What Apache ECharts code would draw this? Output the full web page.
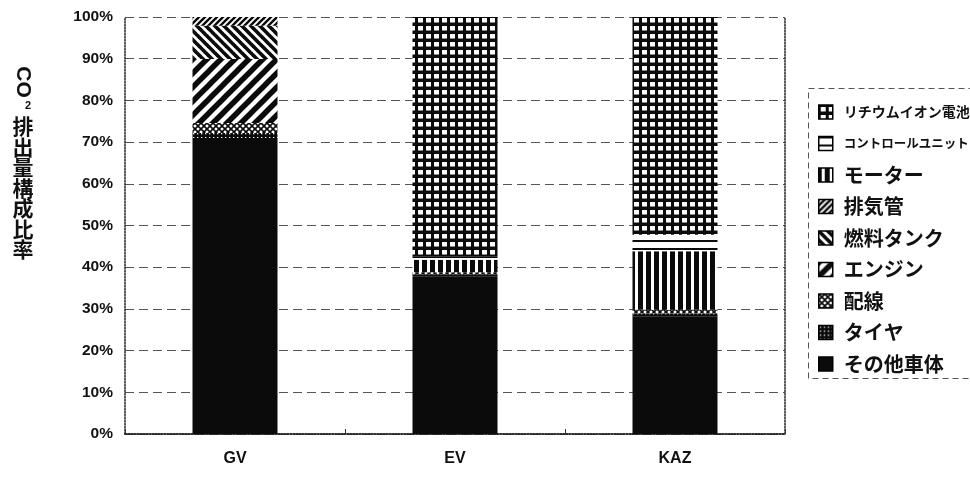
<!DOCTYPE html>
<html>
<head>
<meta charset="utf-8">
<script src="https://cdn.jsdelivr.net/npm/echarts@6/dist/echarts.min.js"></script>
<style>
html,body{margin:0;padding:0;background:#fff;}
#chart{width:970px;height:493px;}
</style>
</head>
<body>
<div id="chart"></div>
<script>
// ---- data ----
const categories = ['GV', 'EV', 'KAZ'];
const yTicks = [0, 10, 20, 30, 40, 50, 60, 70, 80, 90, 100];
const seriesNames = ['その他車体', 'タイヤ', '配線', 'エンジン', '燃料タンク', '排気管', 'モーター', 'コントロールユニット', 'リチウムイオン電池'];
const otherBody    = [71.0, 37.8, 28.1];
const tire         = [1.2, 0.5, 0.8];
const wiring       = [2.4, 0.5, 0.9];
const engine       = [15.3, 0, 0];
const fuelTank     = [8.0, 0, 0];
const exhaust      = [2.1, 0, 0];
const motor        = [0, 3.0, 14.0];
const controlUnit  = [0, 0.8, 4.0];
const liIonBattery = [0, 57.4, 52.2];
const seriesValues = [otherBody, tire, wiring, engine, fuelTank, exhaust, motor, controlUnit, liIonBattery];
const legendOrder = ['リチウムイオン電池', 'コントロールユニット', 'モーター', '排気管', '燃料タンク', 'エンジン', '配線', 'タイヤ', 'その他車体'];

// ---- patterns (styles) ----
function makePattern(w, h, draw) {
  const c = document.createElement('canvas');
  c.width = w; c.height = h;
  const ctx = c.getContext('2d');
  draw(ctx, w, h);
  return { image: c, repeat: 'repeat' };
}
const K = '#0b0b0b';
function diag(ctx, s, lw, forward) {
  ctx.strokeStyle = K; ctx.lineWidth = lw; ctx.lineCap = 'square';
  for (const x0 of [-s, 0, s]) {
    ctx.beginPath();
    if (forward) { ctx.moveTo(x0, s); ctx.lineTo(x0 + s, 0); }
    else { ctx.moveTo(x0, 0); ctx.lineTo(x0 + s, s); }
    ctx.stroke();
  }
}
const patterns = {
  'その他車体': K,
  'タイヤ': makePattern(4, 4, (ctx) => { ctx.fillStyle = K; ctx.fillRect(0,0,4,4); ctx.fillStyle = '#fff'; ctx.fillRect(1,1,1.3,1.3); }),
  '配線': makePattern(6, 6, (ctx, w, h) => { ctx.fillStyle = '#fff'; ctx.fillRect(0,0,w,h); diag(ctx, 6, 1.6, true); diag(ctx, 6, 1.6, false); }),
  'エンジン': makePattern(14, 14, (ctx, w, h) => { ctx.fillStyle = '#fff'; ctx.fillRect(0,0,w,h); diag(ctx, 14, 5.5, true); }),
  '燃料タンク': makePattern(9, 9, (ctx, w, h) => { ctx.fillStyle = '#fff'; ctx.fillRect(0,0,w,h); diag(ctx, 9, 3.6, false); }),
  '排気管': makePattern(6, 6, (ctx, w, h) => { ctx.fillStyle = '#fff'; ctx.fillRect(0,0,w,h); diag(ctx, 6, 2.4, true); }),
  'モーター': makePattern(8, 8, (ctx) => { ctx.fillStyle = K; ctx.fillRect(0,0,8,8); ctx.fillStyle = '#fff'; ctx.fillRect(3,0,3,8); }),
  'コントロールユニット': makePattern(8, 8, (ctx) => { ctx.fillStyle = '#fff'; ctx.fillRect(0,0,8,8); ctx.fillStyle = K; ctx.fillRect(0,0,8,2); }),
  'リチウムイオン電池': makePattern(8, 8, (ctx) => { ctx.fillStyle = K; ctx.fillRect(0,0,8,8); ctx.fillStyle = '#fff'; ctx.fillRect(2,2,5,4.5); })
};

const legendFontSize = {
  'リチウムイオン電池': 14,
  'コントロールユニット': 12.5
};

const chart = echarts.init(document.getElementById('chart'));
const labelFont = '"Liberation Sans", Arial, sans-serif';
const cjkFont = '"Noto Sans CJK JP", "Noto Sans", sans-serif';

const series = seriesNames.map((name, i) => ({
  name: name,
  type: 'bar',
  stack: 'total',
  barWidth: 85,
  data: seriesValues[i],
  itemStyle: { color: patterns[name] },
  emphasis: { disabled: true }
}));

chart.setOption({
  animation: false,
  backgroundColor: '#fff',
  grid: { left: 125, right: 185, top: 17, bottom: 59 },
  xAxis: [{
    type: 'category',
    data: categories,
    position: 'bottom',
    axisLine: { lineStyle: { color: '#222', type: 'dotted', width: 1.5 } },
    axisTick: { show: true, inside: true, length: 5, alignWithLabel: false, lineStyle: { color: '#333' } },
    axisLabel: { margin: 17, color: '#111', fontSize: 16, fontWeight: 'bold', fontFamily: labelFont }
  }, {
    type: 'category',
    data: categories,
    position: 'top',
    axisLine: { lineStyle: { color: '#222', type: 'dotted', width: 1.5 } },
    axisTick: { show: false },
    axisLabel: { show: false }
  }],
  yAxis: [{
    type: 'value',
    min: 0, max: 100, interval: 10,
    axisLine: { show: true, lineStyle: { color: '#222', type: 'dotted', width: 1.5 } },
    axisTick: { show: false },
    axisLabel: {
      margin: 12, color: '#111', fontSize: 15.5, fontWeight: 'bold', fontFamily: labelFont,
      formatter: (v) => yTicks.includes(v) ? v + '%' : ''
    },
    splitLine: { show: true, lineStyle: { color: '#555', type: [9, 5], width: 1 } }
  }, {
    type: 'value',
    min: 0, max: 100, interval: 10,
    position: 'right',
    axisLine: { show: true, lineStyle: { color: '#222', type: 'dotted', width: 1.5 } },
    axisTick: { show: false },
    axisLabel: { show: false },
    splitLine: { show: false }
  }],
  legend: {
    orient: 'vertical',
    left: 813,
    top: 97,
    itemWidth: 14,
    itemHeight: 14,
    itemGap: 11.5,
    icon: 'rect',
    selectedMode: false,
    itemStyle: { borderColor: '#000', borderWidth: 1.5 },
    textStyle: { color: '#111', fontSize: 20, fontWeight: 'bold', fontFamily: cjkFont, lineHeight: 20, padding: [0, 0, 0, 6] },
    data: legendOrder.map(n => legendFontSize[n]
      ? { name: n, textStyle: { fontSize: legendFontSize[n], lineHeight: 20 } }
      : { name: n })
  },
  graphic: [
    {
      type: 'rect',
      left: 806, top: 86, z: -1,
      shape: { width: 175, height: 290 },
      style: { fill: 'none', stroke: '#555', lineWidth: 1, lineDash: [6, 4] },
      silent: true
    },
    {
      type: 'text',
      x: 23, y: 82,
      rotation: -Math.PI / 2,
      style: { text: 'CO', fill: '#111', font: 'bold 21px ' + labelFont, align: 'center', verticalAlign: 'middle' },
      silent: true
    },
    {
      type: 'text',
      x: 28, y: 106,
      style: { text: '2', fill: '#111', font: 'bold 11px ' + labelFont, align: 'center', verticalAlign: 'middle' },
      silent: true
    },
    {
      type: 'text',
      x: 23, y: 116,
      style: { text: '排\n出\n量\n構\n成\n比\n率', fill: '#111', font: 'bold 21px ' + cjkFont, lineHeight: 20.5, align: 'center', verticalAlign: 'top' },
      silent: true
    }
  ],
  series: series
});
</script>
</body>
</html>
